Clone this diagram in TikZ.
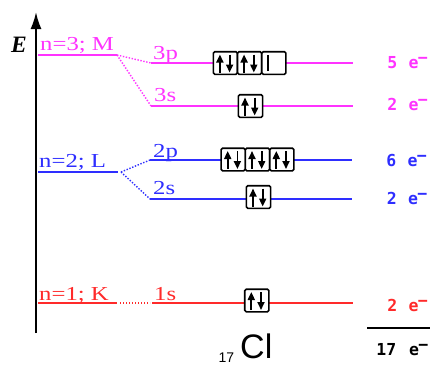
\documentclass[tikz,border=0pt]{standalone}
\usepackage{fontspec}
\usepackage{graphicx}
\setmainfont{Liberation Serif}
\newfontfamily\monofnt{DejaVu Sans Mono}
\newfontfamily\arialfnt{Liberation Sans}
\usetikzlibrary{arrows.meta}
\definecolor{mag}{HTML}{FF33FF}
\definecolor{blu}{HTML}{2E2EFF}
\definecolor{rd}{HTML}{FF2A2A}
\newcommand\lvltext[1]{\scalebox{1.25}[1]{\fontsize{19.8}{20}\selectfont #1}}
\newcommand\ecount[2][11.5pt]{{\monofnt\bfseries\fontsize{16.5}{17}\selectfont
  \llap{#2\hspace{#1}}e\kern-0.8pt\raisebox{4.8pt}{−}}}
\tikzset{
  lvl/.style={line width=2pt},
  link/.style={line width=1.4pt, dash pattern=on 1.4pt off 1.6pt},
  lab/.style={anchor=base west, inner sep=0pt},
  orb/.style={draw=black, line width=1.6pt, fill=white, rounded corners=1.5pt,
    minimum width=24.2pt, minimum height=22.6pt, inner sep=0pt},
  spinarrow/.style={line width=1.8pt, -{Triangle[length=8pt,width=7pt]}},
  pair/.style={orb, path picture={
    \draw[spinarrow] ([xshift=-5.5pt,yshift=-9.5pt]path picture bounding box.center)
        -- ([xshift=-5.5pt,yshift=8.5pt]path picture bounding box.center);
    \draw[spinarrow] ([xshift=4.2pt,yshift=8.5pt]path picture bounding box.center)
        -- ([xshift=4.2pt,yshift=-9.5pt]path picture bounding box.center);}},
  single/.style={orb, path picture={
    \draw[line width=1.6pt] ([xshift=-6pt,yshift=-8pt]path picture bounding box.center)
        -- ([xshift=-6pt,yshift=8pt]path picture bounding box.center);}}
}
\begin{document}
\begin{tikzpicture}[x=1pt,y=-1pt]
\useasboundingbox (0,0) rectangle (431,365);
% axis
\coordinate (axb) at (36,333);
\coordinate (axt) at (36,12);
\draw[line width=2pt, -{Latex[length=17pt,width=11pt]}] (axb) -- (axt);
\node[lab] (E) at (11,52) {\fontsize{23.5}{24}\selectfont\bfseries\itshape E};

% ---------- n = 3 (magenta)
\coordinate (n3a) at (38,55);   \coordinate (n3b) at (117,55);
\coordinate (p3a) at (151,63);  \coordinate (p3b) at (353,63);
\coordinate (s3a) at (151,106); \coordinate (s3b) at (353,106);
\draw[lvl, mag] (n3a) -- (n3b);
\draw[lvl, mag] (p3a) -- (p3b);
\draw[lvl, mag] (s3a) -- (s3b);
\draw[link, mag] (n3b) -- (p3a);
\draw[link, mag] (n3b) -- (s3a);
\node[lab, text=mag] (n3l) at (40,50.5) {\lvltext{n=3; M}};
\node[lab, text=mag] (p3l) at (153,59) {\lvltext{3p}};
\node[lab, text=mag] (s3l) at (154,101.5) {\lvltext{3s}};
\node[pair] (o3p1) at (225.4,63) {};
\node[pair] (o3p2) at (249.6,63) {};
\node[single] (o3p3) at (273.8,63) {};
\node[pair] (o3s) at (250.5,106) {};
\node[lab, text=mag] (e3p) at (408.5,68.3) {\ecount{5}};
\node[lab, text=mag] (e3s) at (408.5,110) {\ecount{2}};

% ---------- n = 2 (blue)
\coordinate (n2a) at (38,172);  \coordinate (n2b) at (118,172);
\coordinate (p2a) at (150,160); \coordinate (p2b) at (352,160);
\coordinate (s2a) at (150,199); \coordinate (s2b) at (352,199);
\coordinate (d2a) at (121,172);
\draw[lvl, blu] (n2a) -- (n2b);
\draw[lvl, blu] (p2a) -- (p2b);
\draw[lvl, blu] (s2a) -- (s2b);
\draw[link, blu] (d2a) -- (p2a);
\draw[link, blu] (d2a) -- (s2a);
\node[lab, text=blu] (n2l) at (39,167) {\lvltext{n=2; L}};
\node[lab, text=blu] (p2l) at (153,157) {\lvltext{2p}};
\node[lab, text=blu] (s2l) at (153,194) {\lvltext{2s}};
\node[pair] (o2p1) at (233.2,159.5) {};
\node[pair] (o2p2) at (257.5,159.5) {};
\node[pair] (o2p3) at (281.8,159.5) {};
\node[pair] (o2s) at (258.5,197) {};
\node[lab, text=blu] (e2p) at (407.5,166) {\ecount{6}};
\node[lab, text=blu] (e2s) at (408,204) {\ecount{2}};

% ---------- n = 1 (red)
\coordinate (n1a) at (38,303);  \coordinate (n1b) at (117,303);
\coordinate (d1a) at (120,303); \coordinate (d1b) at (150,303);
\coordinate (s1a) at (152,303); \coordinate (s1b) at (353,303);
\draw[lvl, rd] (n1a) -- (n1b);
\draw[lvl, rd] (s1a) -- (s1b);
\draw[link, rd] (d1a) -- (d1b);
\node[lab, text=rd] (n1l) at (39,300) {\lvltext{n=1; K}};
\node[lab, text=rd] (s1l) at (154,300) {\lvltext{1s}};
\node[pair] (o1s) at (256.8,300.5) {};
\node[lab, text=rd] (e1s) at (408.5,311.7) {\ecount{2}};

% ---------- total
\coordinate (tla) at (367,328); \coordinate (tlb) at (430,328);
\draw[line width=1.5pt] (tla) -- (tlb);
\node[lab] (etot) at (409,355) {\ecount[13pt]{17}};
\node[lab] (cl) at (240,358.5) {\arialfnt\fontsize{34}{35}\selectfont\smash{Cl}};
\node[lab] (z) at (218.5,362.5) {\arialfnt\fontsize{14}{15}\selectfont 17};
\end{tikzpicture}
\end{document}
